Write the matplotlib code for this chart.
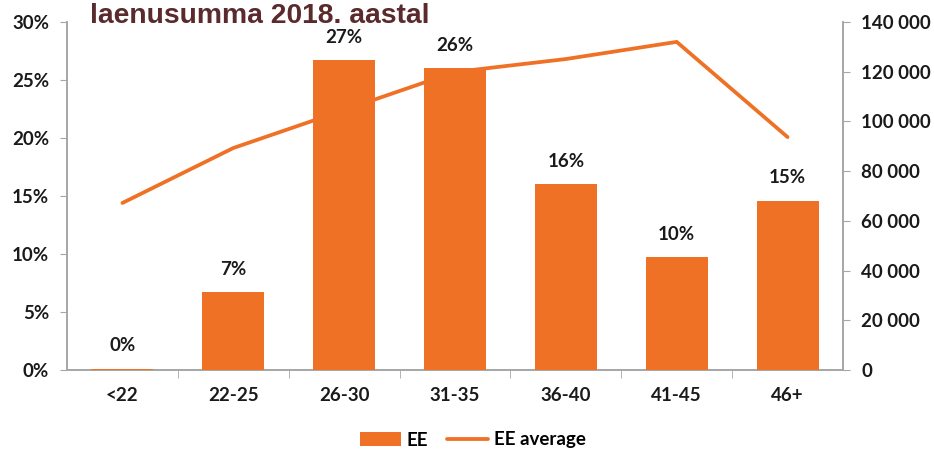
import matplotlib
matplotlib.use('Agg')
import matplotlib.pyplot as plt
from matplotlib.ticker import FuncFormatter, MultipleLocator, FixedLocator

# age groups and shares of borrowers, average loan amount per group
categories = ['<22', '22-25', '26-30', '31-35', '36-40', '41-45', '46+']
share_pct = [0.1, 6.7, 26.7, 26.0, 16.0, 9.7, 14.6]
share_labels = ['0%', '7%', '27%', '26%', '16%', '10%', '15%']
avg_amount = [67200, 89300, 104600, 119900, 125100, 132000, 93700]

ORANGE = '#EE7126'
GREY = '#A6A6A6'
FONT = ['Lato', 'DejaVu Sans']
FS = 13.5

plt.rcParams['font.family'] = FONT
plt.rcParams['font.weight'] = 'bold'

fig = plt.figure(figsize=(9.34, 4.51), dpi=100)
ax = fig.add_axes([67 / 934, 1 - 370 / 451, (843 - 67) / 934, (370 - 22) / 451])
ax2 = ax.twinx()

x = list(range(len(categories)))
bars = ax.bar(x, share_pct, width=0.56, color=ORANGE, zorder=3, label='EE')
ax2.plot(x, avg_amount, color=ORANGE, lw=2.7, zorder=2, label='EE average',
         solid_capstyle='round')

# bars above the line
ax.set_zorder(ax2.get_zorder() + 1)
ax.patch.set_visible(False)

for xi, v, lab in zip(x, share_pct, share_labels):
    ax.text(xi, v + 1.25, lab, ha='center', va='bottom', fontsize=FS,
            fontweight='bold', color='#1a1a1a')

ax.set_xlim(-0.5, len(categories) - 0.5)
ax.set_ylim(0, 30)
ax2.set_ylim(0, 140000)

ax.yaxis.set_major_locator(MultipleLocator(5))
ax.yaxis.set_major_formatter(FuncFormatter(lambda v, p: f'{v:.0f}%'))
ax2.yaxis.set_major_locator(MultipleLocator(20000))
ax2.yaxis.set_major_formatter(
    FuncFormatter(lambda v, p: f'{v:,.0f}'.replace(',', ' ')))

ax.set_xticks(x)
ax.set_xticklabels(categories)
ax.xaxis.set_minor_locator(FixedLocator([i + 0.5 for i in x[:-1]]))
ax.tick_params(axis='x', which='major', length=0, pad=12, labelsize=FS,
               labelcolor='#1a1a1a')
ax.tick_params(axis='x', which='minor', length=6, color=GREY, direction='out')
ax.tick_params(axis='y', length=5, color=GREY, pad=8, labelsize=FS,
               labelcolor='#1a1a1a')
ax2.tick_params(axis='y', length=5, color=GREY, pad=8, labelsize=FS,
                labelcolor='#1a1a1a')

for a in (ax, ax2):
    a.spines['top'].set_visible(False)
    for s in ('left', 'right', 'bottom'):
        a.spines[s].set_color(GREY)
        a.spines[s].set_linewidth(1.2)

fig.text(90 / 934, 1 - 23 / 451, 'laenusumma 2018. aastal', fontsize=20.3,
         fontweight='bold', color='#5A2A2C', family='Liberation Sans',
         ha='left', va='baseline')

handles = [bars, ax2.get_lines()[0]]
fig.legend(handles, ['EE', 'EE average'], loc='center',
           bbox_to_anchor=(473 / 934, 1 - 440 / 451), ncol=2, frameon=False,
           fontsize=FS, handlelength=2.2, handleheight=0.8,
           columnspacing=1.0, handletextpad=0.3)

fig.savefig('out.png', dpi=100)
